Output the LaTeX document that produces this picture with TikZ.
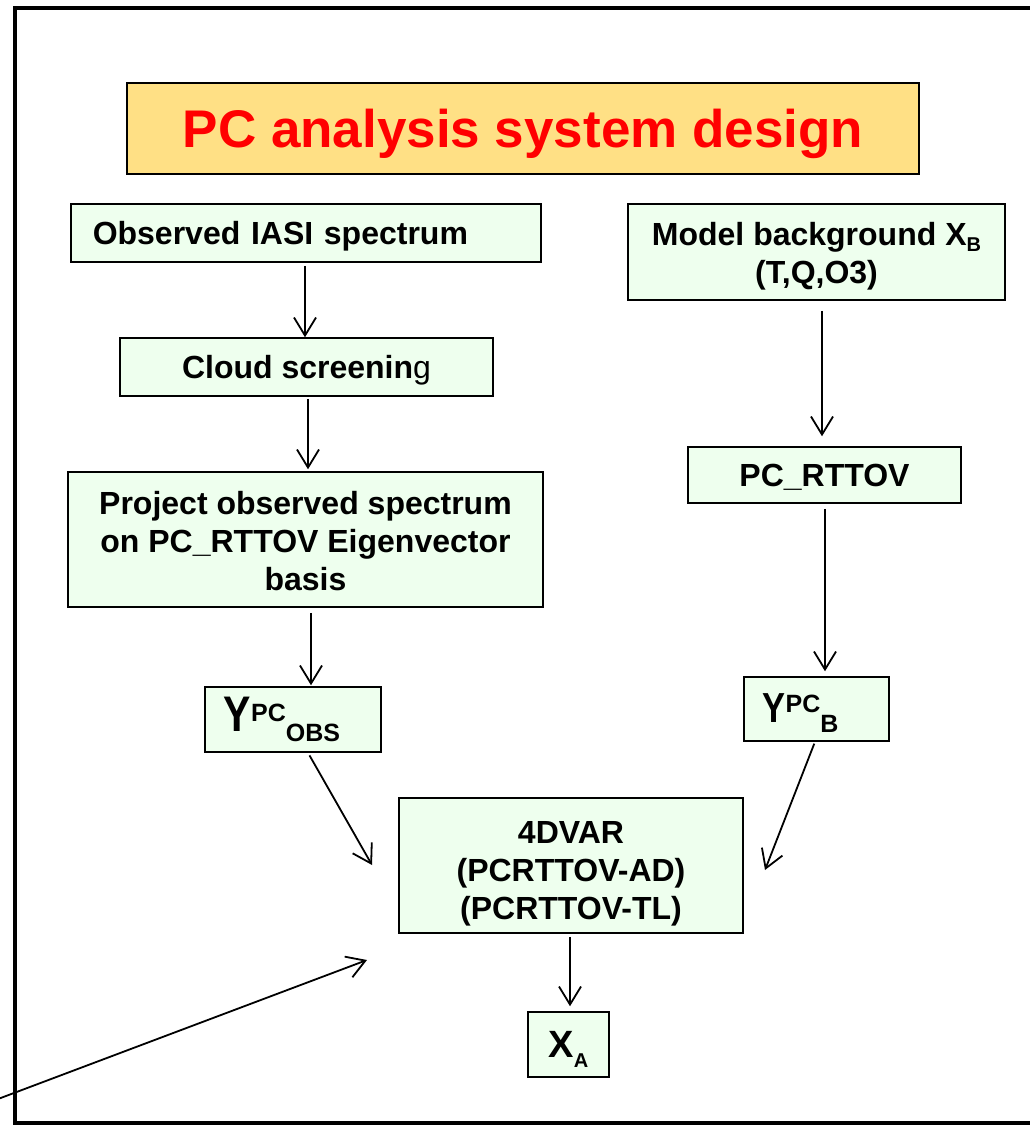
\documentclass[tikz,border=0pt]{standalone}
\usepackage{fontspec}
\setmainfont{Liberation Sans}
\usepackage{graphicx}
\usepackage{xcolor}
\usetikzlibrary{positioning}
\usetikzlibrary{arrows.meta}
\definecolor{boxgreen}{HTML}{EEFFEE}
\definecolor{titleyellow}{HTML}{FFE085}
\newcommand{\boxfont}{\fontsize{32}{38}\selectfont\bfseries}
\newcommand{\bigsym}[2]{\scalebox{0.82}[1]{\fontsize{#1}{#1}\selectfont #2}}
\newcommand{\supsym}[1]{\raisebox{10pt}{\fontsize{25}{25}\selectfont #1}}
\newcommand{\subsym}[1]{\raisebox{-10pt}{\fontsize{25}{25}\selectfont #1}}
\newcommand{\toppad}[1]{\rule{0pt}{#1}}

\begin{document}
\begin{tikzpicture}[x=1pt, y=-1pt,
  box/.style = {draw, fill=boxgreen, line width=1.5pt, font=\boxfont, align=center, inner sep=0pt},
  oneline/.style = {text height=23pt, text depth=0pt},
  arr/.style = {-{Straight Barb[length=18pt, width=22pt]}, line width=1.8pt}]
\useasboundingbox (0,0) rectangle (1029,1126);
% outer frame
\draw[line width=4pt] (1045,8) -- (15,8) -- (15,1123) -- (1045,1123);
% title
\node[draw, fill=titleyellow, line width=1.5pt, minimum width=792pt, minimum height=91pt,
  text height=38pt, text depth=0pt, inner sep=0pt,
  font=\fontsize{53}{53}\selectfont\bfseries, text=red] (title) at (523,128.5) {PC analysis system design};
% left column
\node[box, oneline, anchor=west, text width=426pt, inner xsep=22pt, align=left, minimum height=58pt] (obs) at (70,233) {Observed IASI spectrum};
\node[box, oneline, minimum width=373pt, minimum height=58pt] (cloud) at (306.5,367) {Cloud screenin\textmd{g}};
\node[box, minimum width=475pt, minimum height=135pt] (proj) at (305.5,539.5) {\toppad{26pt}Project observed spectrum\\on PC\_RTTOV Eigenvector\\basis};
\node[box, anchor=west, text width=138pt, inner xsep=19pt, align=left, minimum height=65pt] (yobs) at (204,719.5) {\bigsym{50}{Y}\supsym{PC}\subsym{OBS}};
% right column
\node[box, minimum width=377pt, minimum height=96pt] (model) at (816.5,252) {\toppad{32pt}Model background X\raisebox{-6pt}{\fontsize{20}{20}\selectfont B}\\(T,Q,O3)};
\node[box, oneline, minimum width=273pt, minimum height=56pt] (pcrt) at (824.5,475) {PC\_RTTOV};
\node[box, anchor=west, text width=107pt, inner xsep=19pt, align=left, minimum height=64pt, text depth=2pt] (yb) at (743,709) {\bigsym{42}{Y}\supsym{PC}\subsym{B}};
% analysis
\node[box, minimum width=344pt, minimum height=135pt] (var) at (571,865.5) {\toppad{38pt}4DVAR\\(PCRTTOV-AD)\\(PCRTTOV-TL)};
\node[box, minimum width=81pt, minimum height=65pt, text depth=0pt] (xa) at (568.5,1044.5) {{\fontsize{38}{38}\selectfont X}\raisebox{-10pt}{\fontsize{20}{20}\selectfont A}};
% free arrow ends
\coordinate (varleft) at (372,865);
\coordinate (varright) at (765,870);
\coordinate (varlow) at (367,960);
\coordinate (offleft) at (-2,1099);
% connectors
\draw[arr, shorten <=3pt] (obs.south -| 305,0) -- (cloud.north -| 305,0);
\draw[arr, shorten <=2pt, shorten >=2pt] (cloud.south -| 308,0) -- (proj.north -| 308,0);
\draw[arr, shorten <=5pt, shorten >=1pt] (proj.south -| 311,0) -- (yobs.north -| 311,0);
\draw[arr, shorten <=10pt, shorten >=10pt] (model.south -| 822,0) -- (pcrt.north -| 822,0);
\draw[arr, shorten <=5pt, shorten >=5pt] (pcrt.south -| 825,0) -- (yb.north -| 825,0);
\draw[arr, shorten <=3pt] (yobs.south -| 308,0) -- (varleft);
\draw[arr, shorten <=2pt] (yb.south -| 815,0) -- (varright);
\draw[arr, shorten <=3pt, shorten >=5pt] (var.south -| 570,0) -- (xa.north -| 570,0);
\draw[arr] (offleft) -- (varlow);
\end{tikzpicture}
\end{document}
